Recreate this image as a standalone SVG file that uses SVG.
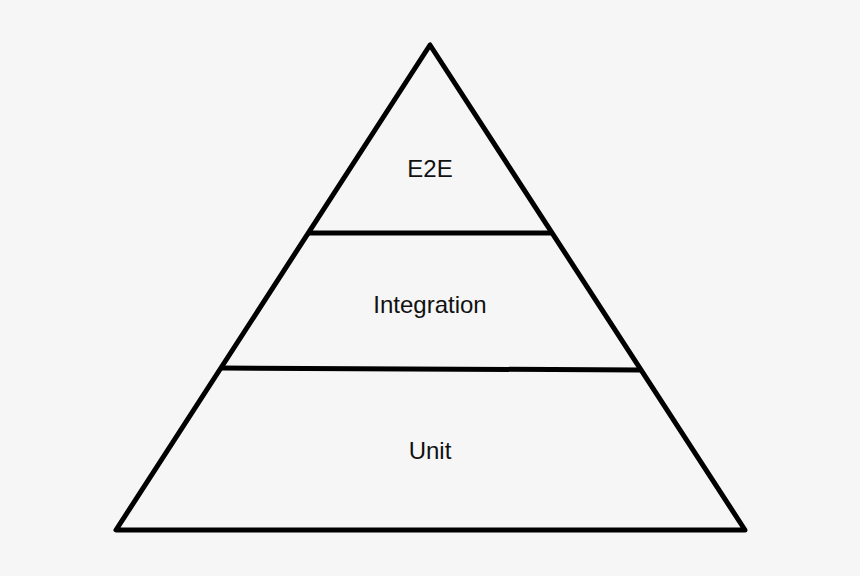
<svg xmlns="http://www.w3.org/2000/svg" width="860" height="576" viewBox="0 0 860 576">
<style>
.ln{fill:none;stroke:#000;stroke-width:5;stroke-linejoin:round;stroke-linecap:round}
.lbl{font-family:"Liberation Sans",Arial,sans-serif;font-size:24px;fill:#111;text-anchor:middle}
</style>
<rect width="860" height="576" fill="#f6f6f6"/>
<g id="connectors">
<polygon class="ln" points="430,45 116,530 745,530"/>
<line class="ln" x1="309" y1="233" x2="551" y2="233" style="stroke-linecap:butt"/>
<line class="ln" x1="222" y1="368" x2="640" y2="370" style="stroke-linecap:butt"/>
</g>
<g id="e2e"><text class="lbl" x="430" y="177">E2E</text></g>
<g id="integration"><text class="lbl" x="430" y="313">Integration</text></g>
<g id="unit"><text class="lbl" x="430" y="459">Unit</text></g>
</svg>
